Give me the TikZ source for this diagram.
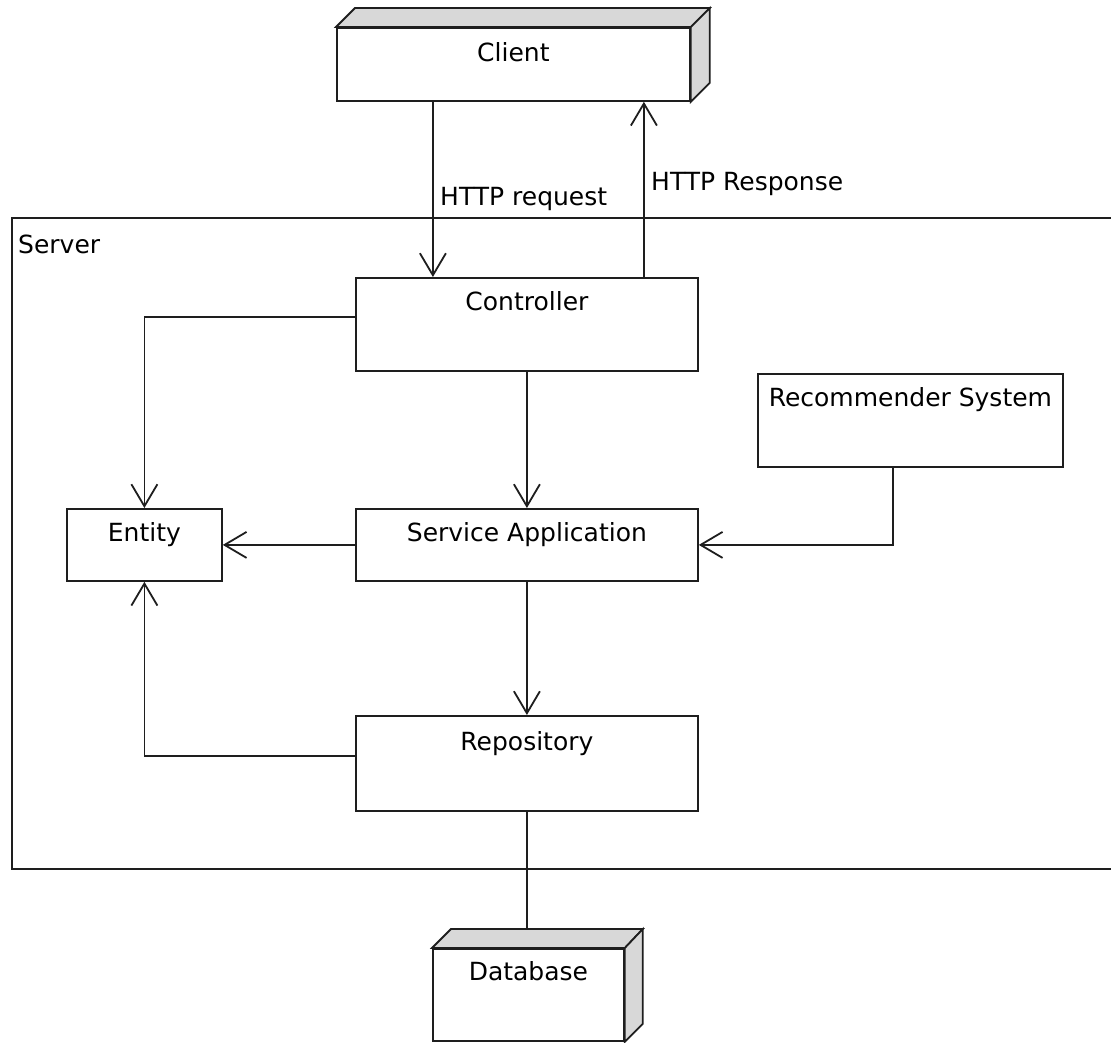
\documentclass[tikz,border=0pt]{standalone}
\usepackage{fontspec}
\setmainfont{DejaVu Sans}
\usetikzlibrary{arrows.meta}
\definecolor{ln}{RGB}{30,30,30}
\definecolor{face}{RGB}{216,216,216}
\tikzset{
  box/.style={draw=ln, line width=1.8pt, fill=white, rectangle, inner sep=0pt, anchor=north west},
  lbl/.style={font=\fontsize{25}{30}\selectfont, text=black, inner sep=0pt},
  conn/.style={draw=ln, line width=1.8pt},
  arr/.style={conn, -{Straight Barb[length=22pt,width=26pt,line width=1.8pt]}},
  side/.style={draw=ln, line width=1.8pt, fill=face, line join=miter}
}
\begin{document}
\begin{tikzpicture}[x=1pt,y=-1pt]
\useasboundingbox (0,0) rectangle (1111,1042);
\fill[white] (0,0) rectangle (1111,1042);

% Server frame
\node[box, fill=none, minimum width=1110pt, minimum height=651pt] (server) at (11,217) {};
\node[lbl, anchor=base west] (serverlbl) at (18,253) {Server};

% Client (3D node)
\node[box, minimum width=353pt, minimum height=73pt] (client) at (336,27) {};
\path[side] (client.north west) -- ++(19,-19) -- ([shift={(19pt,19pt)}]client.north east) -- (client.north east) -- cycle;
\path[side] (client.north east) -- ++(19,-19) -- ([shift={(19pt,19pt)}]client.south east) -- (client.south east) -- cycle;
\node[lbl, anchor=base] (clientlbl) at ([yshift=-34pt]client.north) {Client};

% Database (3D node)
\node[box, minimum width=191pt, minimum height=92pt] (db) at (432,948) {};
\path[side] (db.north west) -- ++(19,-19) -- ([shift={(18pt,19pt)}]db.north east) -- (db.north east) -- cycle;
\path[side] (db.north east) -- ++(18,-19) -- ([shift={(18pt,18pt)}]db.south east) -- (db.south east) -- cycle;
\node[lbl, anchor=base] (dblbl) at ([yshift=-32pt]db.north) {Database};
\coordinate (dbtop) at (528,929);

% Components
\node[box, minimum width=342pt, minimum height=93pt] (ctrl) at (355,277) {};
\node[lbl, anchor=base] at ([yshift=-33pt]ctrl.north) {Controller};

\node[box, minimum width=155pt, minimum height=72pt] (entity) at (66,508) {};
\node[lbl, anchor=base] at ([yshift=-33pt]entity.north) {Entity};

\node[box, minimum width=342pt, minimum height=72pt] (svc) at (355,508) {};
\node[lbl, anchor=base] at ([yshift=-33pt]svc.north) {Service Application};

\node[box, minimum width=305pt, minimum height=93pt] (rec) at (757,373) {};
\node[lbl, anchor=base] at ([yshift=-33pt]rec.north) {Recommender System};

\node[box, minimum width=342pt, minimum height=95pt] (repo) at (355,715) {};
\node[lbl, anchor=base] at ([yshift=-35pt]repo.north) {Repository};

% HTTP connectors
\draw[arr] ([xshift=-80.5pt]client.south) -- ([xshift=-80.5pt]client.south |- ctrl.north);
\draw[arr] ([xshift=130.5pt]client.south |- ctrl.north) -- ([xshift=130.5pt]client.south);
\node[lbl, anchor=base west] (req) at (440,205) {HTTP request};
\node[lbl, anchor=base west] (resp) at (651,190) {HTTP Response};

% internal connectors
\draw[arr] ([yshift=7.5pt]ctrl.west) -| (entity.north);
\draw[arr] (ctrl.south) -- (svc.north);
\draw[arr] (svc.west) -- (entity.east);
\draw[arr] ([xshift=-17.5pt]rec.south) |- (svc.east);
\draw[arr] (svc.south) -- (repo.north);
\draw[arr] ([yshift=7.5pt]repo.west) -| (entity.south);
\draw[conn] (repo.south) -- (repo.south |- dbtop);
\end{tikzpicture}
\end{document}
